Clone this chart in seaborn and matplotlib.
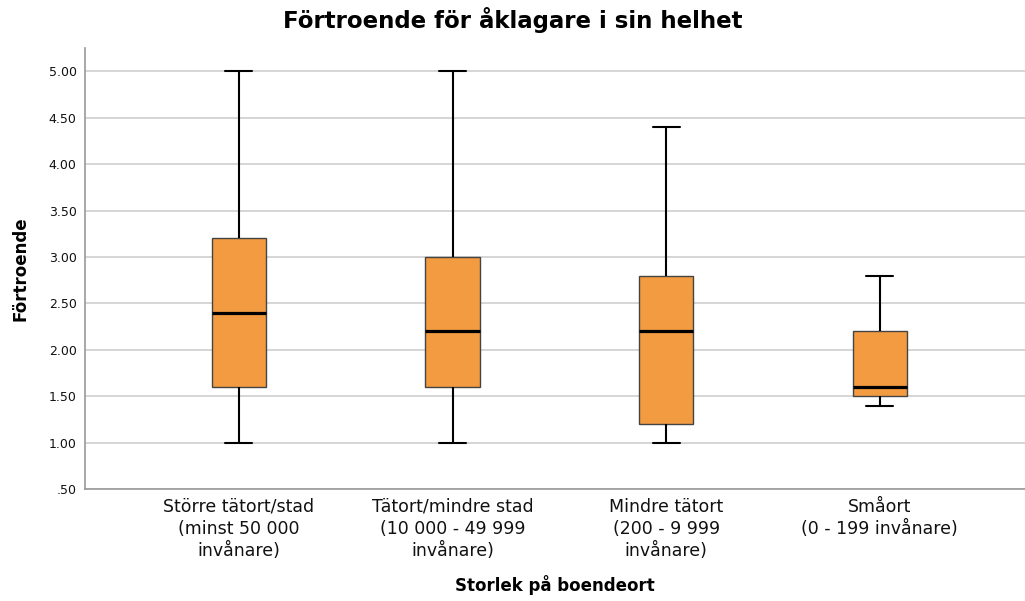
import pandas as pd
import matplotlib
matplotlib.use("Agg")
import matplotlib.pyplot as plt
import seaborn as sns

# Kategorier och femtalssammanfattning (min, q1, median, q3, max)
kategorier = [
    "Större tätort/stad\n(minst 50 000\ninvånare)",
    "Tätort/mindre stad\n(10 000 - 49 999\ninvånare)",
    "Mindre tätort\n(200 - 9 999\ninvånare)",
    "Småort\n(0 - 199 invånare)",
]
storre = [1.0, 1.6, 2.4, 3.2, 5.0]
tatort = [1.0, 1.6, 2.2, 3.0, 5.0]
mindre = [1.0, 1.2, 2.2, 2.8, 4.4]
smaort = [1.4, 1.5, 1.6, 2.2, 2.8]
y_ticks = [0.5, 1.0, 1.5, 2.0, 2.5, 3.0, 3.5, 4.0, 4.5, 5.0]

rows = []
for kat, vals in zip(kategorier, [storre, tatort, mindre, smaort]):
    for v in vals:
        rows.append({"Storlek": kat, "Förtroende": v})
df = pd.DataFrame(rows)

sns.set_style("white")
plt.rcParams['font.family'] = ['DejaVu Sans']

fig = plt.figure(figsize=(10.25, 6.01), dpi=100)
ax = fig.add_axes([0.083, 0.186, 0.917, 0.734])

sns.boxplot(data=df, x="Storlek", y="Förtroende", order=kategorier,
            whis=(0, 100), width=0.253, color="#F29B40", saturation=1,
            linecolor="#333333", linewidth=1.0,
            medianprops={"color": "black", "linewidth": 2.3},
            whiskerprops={"color": "black", "linewidth": 1.5},
            capprops={"color": "black", "linewidth": 1.5},
            boxprops={"edgecolor": "#444444", "linewidth": 1.0},
            ax=ax, zorder=3)

ax.set_xlim(-0.72, 3.68)
ax.set_ylim(0.5, 5.25)
ax.set_yticks(y_ticks)
ax.set_yticklabels([f"{v:.2f}".lstrip("0") for v in y_ticks], fontsize=9, color="#111111")
ax.set_xticks(range(len(kategorier)))
ax.set_xticklabels(kategorier, fontsize=12.5, color="#111111", linespacing=1.3)
ax.tick_params(axis="x", length=0, pad=6)
ax.tick_params(axis="y", length=0, pad=6)
ax.yaxis.grid(True, color="#d2d2d2", linewidth=1.3)
ax.set_axisbelow(True)

for s in ["top", "right"]:
    ax.spines[s].set_visible(False)
for s in ["left", "bottom"]:
    ax.spines[s].set_color("#999999")
    ax.spines[s].set_linewidth(1.2)

ax.set_xlabel("Storlek på boendeort", fontsize=12, fontweight="bold", labelpad=11, color="black")
ax.set_ylabel("Förtroende", fontsize=12, fontweight="bold", labelpad=14, color="black")
fig.suptitle("Förtroende för åklagare i sin helhet", fontsize=16.5, fontweight="bold",
             y=0.988, color="black")

fig.savefig("out.png", dpi=100)
